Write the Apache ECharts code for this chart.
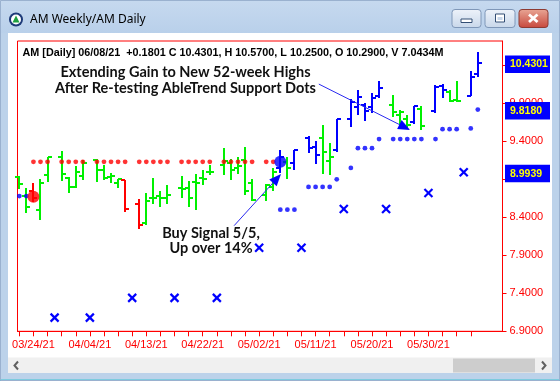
<!DOCTYPE html>
<html><head><meta charset="utf-8">
<script src="https://cdn.jsdelivr.net/npm/echarts@6/dist/echarts.min.js"></script>
<style>html,body{margin:0;padding:0;background:#fff;}#chart{width:560px;height:381px;}</style>
</head><body><div id="chart"></div>
<script>
// ---- data (one slot per trading day, plus one empty slot per weekend/holiday) ----
const dates = ['03/22/21','03/23/21','03/24/21','03/25/21','03/26/21','03/28/21','03/29/21','03/30/21','03/31/21','04/01/21','04/04/21','04/05/21','04/06/21','04/07/21','04/08/21','04/09/21','04/11/21','04/12/21','04/13/21','04/14/21','04/15/21','04/16/21','04/18/21','04/19/21','04/20/21','04/21/21','04/22/21','04/23/21','04/25/21','04/26/21','04/27/21','04/28/21','04/29/21','04/30/21','05/02/21','05/03/21','05/04/21','05/05/21','05/06/21','05/07/21','05/09/21','05/10/21','05/11/21','05/12/21','05/13/21','05/14/21','05/16/21','05/17/21','05/18/21','05/19/21','05/20/21','05/21/21','05/23/21','05/24/21','05/25/21','05/26/21','05/27/21','05/28/21','05/30/21','06/01/21','06/02/21','06/03/21','06/04/21','06/06/21','06/07/21','06/08/21'];
const dateTickLabels = ['03/24/21','04/04/21','04/13/21','04/22/21','05/02/21','05/11/21','05/20/21','05/30/21'];
const priceTickLabels = [6.9, 7.4, 7.9, 8.4, 8.9, 9.4, 9.9, 10.4];

const open  = [8.93,8.68,8.75,8.50,8.96,null,9.20,8.92,8.80,8.95,null,9.15,9.02,8.93,8.85,8.89,null,8.58,8.32,8.65,8.68,8.66,null,8.78,8.78,8.87,8.92,8.99,null,9.09,9.12,9.05,9.15,8.85,null,8.70,8.80,9.05,9.13,9.11,null,9.44,9.33,9.44,9.14,9.29,null,9.70,9.85,9.88,9.85,9.99,null,9.88,9.75,9.70,9.66,9.83,null,9.80,10.13,10.05,9.95,null,10.00,10.29];
const high  = [8.95,8.78,8.85,8.91,9.20,null,9.27,8.93,9.08,9.15,null,9.17,9.09,8.98,8.91,8.89,null,8.64,8.72,8.92,8.74,8.82,null,8.95,8.88,8.97,9.02,9.09,null,9.31,9.17,9.20,9.33,8.90,null,8.84,9.05,9.29,9.19,9.29,null,9.47,9.40,9.62,9.38,9.70,null,9.96,10.08,9.90,10.03,10.19,null,10.01,9.81,9.74,9.86,9.86,null,10.14,10.16,10.08,10.19,null,10.32,10.57];
const low   = [8.77,8.46,8.60,8.36,8.87,null,8.88,8.72,8.78,8.89,null,8.87,8.89,8.85,8.78,8.47,null,8.24,8.30,8.58,8.53,8.57,null,8.65,8.54,8.50,8.83,8.96,null,8.96,8.89,8.97,8.69,8.62,null,8.62,8.74,8.98,8.90,9.02,null,9.24,9.10,8.97,8.96,9.26,null,9.59,9.75,9.67,9.77,9.97,null,9.72,9.62,9.57,9.63,9.55,null,9.77,9.97,9.92,9.92,null,9.99,10.25];
const close = [8.84,8.54,8.66,8.85,9.19,null,8.97,8.80,9.00,9.12,null,9.02,8.92,8.94,8.90,8.51,null,8.30,8.62,8.66,8.66,8.69,null,8.77,8.65,8.85,8.90,8.99,null,9.14,9.02,9.08,8.75,8.63,null,8.83,9.00,9.20,9.05,9.29,null,9.31,9.22,9.26,9.20,9.69,null,9.92,9.98,9.80,9.97,10.10,null,9.79,9.79,9.62,9.86,9.60,null,10.12,10.07,9.93,9.93,null,10.25,10.4301];
// bar trend: g = neutral (green), r = down (red), b = up (blue)
const trend = ['g','g','r','g','g',null,'g','g','g','g',null,'g','g','g','g','r',null,'r','g','g','g','g',null,'g','g','g','g','g',null,'g','g','g','g','g',null,'g','g','b','g','b',null,'b','b','g','g','b',null,'b','b','b','b','b',null,'g','g','g','b','g',null,'b','b','g','g',null,'b','b'];
const lastVolume = '7.0434M';

const resistanceDots = [null,null,9.13,9.13,9.13,null,9.13,9.13,9.13,9.13,null,9.13,9.13,9.13,9.13,9.13,null,9.13,9.13,9.13,9.13,9.13,null,9.13,9.13,9.13,9.13,9.13,null,9.13,9.13,9.13,9.13,9.13,null,9.13,9.13,null,null,null,null,null,null,null,null,null,null,null,null,null,null,null,null,null,null,null,null,null,null,null,null,null,null,null,null,null];
const supportDots = [8.68,8.68,null,null,null,null,null,null,null,null,null,null,null,null,null,null,null,null,null,null,null,null,null,null,null,null,null,null,null,null,null,null,null,null,null,null,null,8.50,8.50,8.50,null,8.80,8.80,8.80,8.80,8.90,null,9.05,9.31,9.31,9.31,9.43,null,9.43,9.43,9.43,9.43,9.43,null,9.43,9.56,9.56,9.56,null,9.57,9.818];
const weeklyStops = [null,null,null,null,null,7.08,null,null,null,null,7.08,null,null,null,null,null,7.34,null,null,null,null,null,7.34,null,null,null,null,null,7.34,null,null,null,null,null,8.00,null,null,null,null,null,8.00,null,null,null,null,null,8.51,null,null,null,null,null,8.51,null,null,null,null,null,8.72,null,null,null,null,8.9939,null,null];
const sellSignal = ['03/24/21', 8.67];
const buySignal  = ['05/05/21', 9.13];

// ---- derived ----
const N = dates.length, last = N - 1;
const idx = dates.map((d, i) => i);
const bars = idx.filter(i => open[i] != null).map(i => [i, open[i], high[i], low[i], close[i]]);
const pts = arr => idx.filter(i => arr[i] != null).map(i => [i, arr[i]]);
const lastStop = weeklyStops[idx.filter(i => weeklyStops[i] != null).pop()];
const boxValues = [close[last], supportDots[last], lastStop];
const chg = close[last] - close[last - 1];
const header = 'AM [Daily] ' + dates[last] + '  ' + (chg >= 0 ? '+' : '') + chg.toFixed(4) +
  ' C ' + close[last].toFixed(4) + ', H ' + high[last].toFixed(4) + ', L ' + low[last].toFixed(4) +
  ', O ' + open[last].toFixed(4) + ', V ' + lastVolume;

const trendColor = { g: '#00f000', r: '#ff0000', b: '#0000ff' };
const X0 = -0.26, X1 = 68.5;
const tickSlots = idx.filter(i => i % 2 === 0 && i < last);
const labelSlots = dateTickLabels.map(d => dates.indexOf(d));

const chart = echarts.init(document.getElementById('chart'));

function arrowItem(params, api) {
  const a = api.coord([api.value(0), api.value(1)]);
  const b = api.coord([api.value(2), api.value(3)]);
  const dx = b[0] - a[0], dy = b[1] - a[1], len = Math.hypot(dx, dy);
  const ux = dx / len, uy = dy / len, hl = 12, hw = 5;
  const bx = b[0] - ux * hl, by = b[1] - uy * hl;
  return { type: 'group', children: [
    { type: 'line', shape: { x1: a[0], y1: a[1], x2: bx, y2: by }, style: { stroke: '#2a2af0', lineWidth: 1 } },
    { type: 'polygon', shape: { points: [[b[0], b[1]], [bx - uy * hw, by + ux * hw], [bx + uy * hw, by - ux * hw]] }, style: { fill: '#0000ff' } }
  ]};
}

const btn = (x, w, c1, c2, stroke) => ({ type: 'rect', shape: { x: x, y: 9.5, width: w, height: 18, r: 3 },
  style: { fill: new echarts.graphic.LinearGradient(0, 0, 0, 1, [{ offset: 0, color: c1 }, { offset: 1, color: c2 }]), stroke: stroke, lineWidth: 1 } });

const frame = '#bcd2ea';
const option = {
  animation: false,
  backgroundColor: '#ffffff',
  grid: { left: 17.5, top: 41, width: 485, height: 290.3, show: true, borderColor: '#ff0000', borderWidth: 1, backgroundColor: 'transparent' },
  xAxis: {
    type: 'value', min: X0, max: X1,
    axisLine: { show: true, onZero: false, lineStyle: { color: '#ff0000', width: 1 } },
    axisTick: { show: true, inside: false, length: 5, customValues: tickSlots, lineStyle: { color: '#ff0000' } },
    axisLabel: { customValues: labelSlots, formatter: v => dates[Math.round(v)], color: '#ff0000', fontSize: 11, fontFamily: 'Liberation Sans', margin: 8, hideOverlap: false },
    splitLine: { show: false }
  },
  yAxis: {
    type: 'value', position: 'right', min: 6.9, max: 10.72,
    axisLine: { show: true, onZero: false, lineStyle: { color: '#ff0000', width: 1 } },
    axisTick: { show: true, inside: false, length: 4, customValues: priceTickLabels, lineStyle: { color: '#ff0000' } },
    axisLabel: { customValues: priceTickLabels, formatter: v => v.toFixed(4), color: '#ff0000', fontSize: 11, fontFamily: 'Liberation Sans', margin: 7 },
    splitLine: { show: false }
  },
  series: [
    { type: 'custom', silent: true, z: 3, data: bars,
      renderItem: (params, api) => {
        const i = api.value(0), col = trendColor[trend[i]];
        const h = api.coord([i, api.value(2)]), l = api.coord([i, api.value(3)]);
        const o = api.coord([i, api.value(1)]), c = api.coord([i, api.value(4)]);
        const x = Math.round(h[0]), st = { stroke: col, lineWidth: 2 };
        const oy = Math.round(o[1]), cy = Math.round(c[1]);
        return { type: 'group', children: [
          { type: 'line', shape: { x1: x, y1: Math.round(h[1]), x2: x, y2: Math.round(l[1]) }, style: st },
          { type: 'line', shape: { x1: x - 4, y1: oy, x2: x, y2: oy }, style: st },
          { type: 'line', shape: { x1: x, y1: cy, x2: x + 4, y2: cy }, style: st }
        ]};
      } },
    { type: 'scatter', silent: true, z: 4, data: pts(resistanceDots), symbolSize: 4.8, itemStyle: { color: '#ff0000' } },
    { type: 'scatter', silent: true, z: 4, data: pts(supportDots), symbolSize: 4.8, itemStyle: { color: '#0000ff' } },
    { type: 'scatter', silent: true, z: 5, symbolSize: 12,
      data: [ { value: [dates.indexOf(sellSignal[0]), sellSignal[1]], itemStyle: { color: '#ff0000' } },
              { value: [dates.indexOf(buySignal[0]), buySignal[1]], itemStyle: { color: '#0000ff' } } ] },
    { type: 'custom', silent: true, z: 5, data: pts(weeklyStops),
      renderItem: (params, api) => {
        const p = api.coord([api.value(0), api.value(1)]), s = 4;
        const st = { stroke: '#0000ff', lineWidth: 2.2 };
        return { type: 'group', children: [
          { type: 'line', shape: { x1: p[0] - s, y1: p[1] - s, x2: p[0] + s, y2: p[1] + s }, style: st },
          { type: 'line', shape: { x1: p[0] - s, y1: p[1] + s, x2: p[0] + s, y2: p[1] - s }, style: st }
        ]};
      } },
    { type: 'custom', silent: true, z: 6, data: [[42.46, 10.153, 55.4, 9.55], [30.45, 8.29, 37.1, 8.97]], renderItem: arrowItem },
    { type: 'custom', silent: true, z: 6, clip: false, data: boxValues.map(v => [X1, v]),
      renderItem: (params, api) => {
        const v = api.value(1), p = api.coord([X1, v]);
        return { type: 'group', children: [
          { type: 'rect', shape: { x: p[0] + 2.5, y: p[1] - 7.5, width: 45, height: 17.5 }, style: { fill: '#0000ff' } },
          { type: 'text', style: { text: v.toFixed(4), x: p[0] + 7.5, y: p[1] + 1.5, verticalAlign: 'middle', align: 'left', font: 'bold 10.5px "Liberation Sans"', fill: '#ffff00' } }
        ]};
      } }
  ],
  graphic: [
    // window chrome
    { type: 'rect', shape: { x: 0, y: 0, width: 560, height: 33 }, style: { fill: new echarts.graphic.LinearGradient(0, 0, 0, 1, [{ offset: 0, color: '#c6d9ef' }, { offset: 1, color: '#b9d0ea' }]) } },
    { type: 'rect', shape: { x: 0, y: 33, width: 8, height: 348 }, style: { fill: frame } },
    { type: 'rect', shape: { x: 552, y: 33, width: 8, height: 348 }, style: { fill: frame } },
    { type: 'rect', shape: { x: 0, y: 373, width: 560, height: 8 }, style: { fill: frame } },
    { type: 'rect', shape: { x: 0, y: 379.5, width: 560, height: 1.5 }, style: { fill: '#3fc4d2' } },
    { type: 'rect', shape: { x: 0.5, y: 0.5, width: 559, height: 380 }, style: { fill: 'none', stroke: '#9ab1cf', lineWidth: 1 } },
    { type: 'rect', shape: { x: 8, y: 357.5, width: 544, height: 15.5 }, style: { fill: '#f0f0f0' } },
    { type: 'rect', shape: { x: 453, y: 358.5, width: 82, height: 14 }, style: { fill: '#cdcdcd' } },
    { type: 'polyline', shape: { points: [[18, 361.5], [14.5, 365.5], [18, 369.5]] }, style: { stroke: '#606060', lineWidth: 2, fill: 'none' } },
    { type: 'polyline', shape: { points: [[542, 361.5], [545.5, 365.5], [542, 369.5]] }, style: { stroke: '#606060', lineWidth: 2, fill: 'none' } },
    btn(452, 29, '#eef3fa', '#c8d7ea', '#7f97b8'),
    btn(485, 30, '#eef3fa', '#c8d7ea', '#7f97b8'),
    btn(519, 29, '#e9a796', '#c7473b', '#8e3b33'),
    { type: 'rect', shape: { x: 461, y: 19, width: 11, height: 3.5 }, style: { fill: '#ffffff', stroke: '#334e74', lineWidth: 1 } },
    { type: 'rect', shape: { x: 495.5, y: 14, width: 9, height: 8 }, style: { fill: '#ffffff', stroke: '#334e74', lineWidth: 1 } },
    { type: 'rect', shape: { x: 497.5, y: 17, width: 5, height: 3 }, style: { fill: '#c8d7ea' } },
    { type: 'polyline', shape: { points: [[529, 14.5], [537.5, 22]] }, style: { stroke: '#ffffff', lineWidth: 2.8 } },
    { type: 'polyline', shape: { points: [[537.5, 14.5], [529, 22]] }, style: { stroke: '#ffffff', lineWidth: 2.8 } },
    { type: 'circle', shape: { cx: 16, cy: 19.5, r: 7 }, style: { fill: '#1d3a78' } },
    { type: 'circle', shape: { cx: 16, cy: 19.5, r: 5 }, style: { fill: '#ffffff' } },
    { type: 'polygon', shape: { points: [[16, 15.5], [19.5, 22.5], [12.5, 22.5]] }, style: { fill: '#1fa040' } },
    { type: 'text', style: { text: 'AM Weekly/AM Daily', x: 30, y: 20, verticalAlign: 'middle', font: '12px "Noto Sans"', fill: '#000000' } },
    // chart texts
    { type: 'text', z: 10, style: { text: header, x: 22.5, y: 53, verticalAlign: 'middle', font: 'bold 10.8px "Liberation Sans"', fill: '#000000' } },
    { type: 'text', z: 10, style: { text: 'Extending Gain to New 52-week Highs', x: 185.5, y: 72.5, align: 'center', verticalAlign: 'middle', font: 'bold 14.5px Lato', fill: '#111111' } },
    { type: 'text', z: 10, style: { text: 'After Re-testing AbleTrend Support Dots', x: 185.5, y: 88, align: 'center', verticalAlign: 'middle', font: 'bold 14.5px Lato', fill: '#111111' } },
    { type: 'text', z: 10, style: { text: 'Buy Signal 5/5,', x: 211, y: 233.5, align: 'center', verticalAlign: 'middle', font: 'bold 14.5px Lato', fill: '#111111' } },
    { type: 'text', z: 10, style: { text: 'Up over 14%', x: 211, y: 248.5, align: 'center', verticalAlign: 'middle', font: 'bold 14.5px Lato', fill: '#111111' } }
  ]
};
chart.setOption(option);
</script></body></html>
